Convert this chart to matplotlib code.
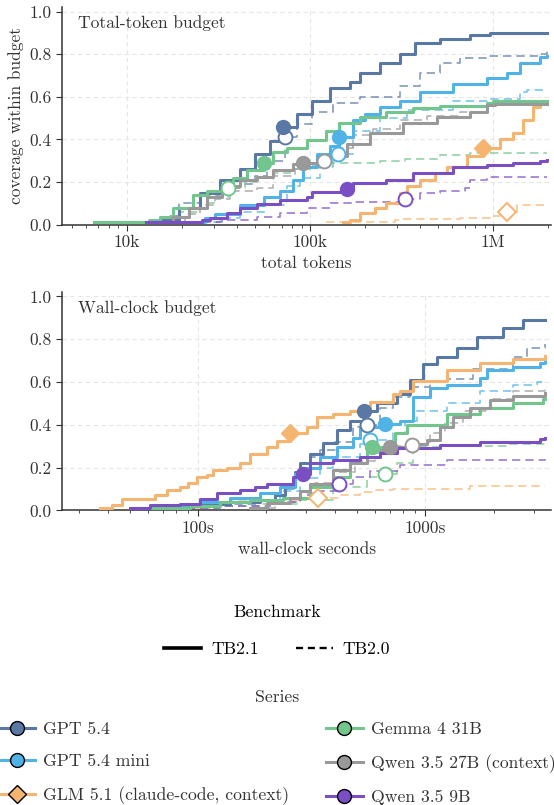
import matplotlib
matplotlib.use("Agg")
import matplotlib.pyplot as plt
from matplotlib.lines import Line2D
from matplotlib.ticker import FixedLocator, FixedFormatter, LogLocator, NullFormatter

plt.rcParams['font.family'] = 'serif'
plt.rcParams['font.serif'] = ['cmr10', 'DejaVu Serif']
plt.rcParams['axes.formatter.use_mathtext'] = True
plt.rcParams['mathtext.fontset'] = 'cm'

# ---- series meta ----
models = ["GPT 5.4", "GPT 5.4 mini", "GLM 5.1 (claude-code, context)",
          "Gemma 4 31B", "Qwen 3.5 27B (context)", "Qwen 3.5 9B"]
colors = ["#5a78a5", "#4fb3e8", "#f5b46f", "#72c58c", "#999999", "#7b4fc4"]
markers = ["o", "o", "D", "o", "o", "o"]

# ---- total-token budget: coverage curves (tokens, coverage) ----
tok_gpt54_21_x = [11.7e3, 15.1e3, 19.4e3, 25.0e3, 32.1e3, 41.3e3, 49.9e3, 60.2e3, 71.0e3, 84.6e3, 103e3, 128e3,
                  165e3, 187e3, 240e3, 309e3, 373e3, 511e3, 746e3, 960e3, 1.97e6]
tok_gpt54_21_y = [0.01, 0.02, 0.08, 0.15, 0.21, 0.26, 0.33, 0.39, 0.46, 0.52, 0.58, 0.64,
                  0.67, 0.71, 0.76, 0.80, 0.85, 0.87, 0.89, 0.90, 0.90]
tok_gpt54_20_x = [13.3e3, 16.1e3, 19.4e3, 25.0e3, 32.1e3, 41.3e3, 49.9e3, 58.0e3, 72.7e3, 84.6e3, 103e3, 133e3,
                  187e3, 309e3, 397e3, 511e3, 658e3, 924e3, 1.80e6, 1.97e6]
tok_gpt54_20_y = [0.01, 0.04, 0.10, 0.14, 0.17, 0.19, 0.23, 0.30, 0.41, 0.47, 0.53, 0.57,
                  0.60, 0.65, 0.71, 0.76, 0.78, 0.79, 0.80, 0.82]
tok_mini_21_x = [23.4e3, 26.6e3, 30.2e3, 41.3e3, 56.5e3, 68.3e3, 80.5e3, 91.2e3, 109e3, 128e3, 144e3, 171e3,
                 199e3, 240e3, 309e3, 397e3, 602e3, 924e3, 1.19e6, 1.40e6, 1.80e6, 1.97e6]
tok_mini_21_y = [0.01, 0.03, 0.05, 0.09, 0.13, 0.16, 0.21, 0.27, 0.33, 0.37, 0.41, 0.49,
                 0.52, 0.55, 0.58, 0.62, 0.66, 0.69, 0.71, 0.76, 0.785, 0.79]
tok_mini_20_x = [25.0e3, 32.1e3, 41.3e3, 56.5e3, 74.6e3, 87.8e3, 113e3, 133e3, 142e3, 171e3, 240e3, 338e3,
                 602e3, 924e3, 1.40e6, 1.53e6, 1.97e6]
tok_mini_20_y = [0.01, 0.03, 0.06, 0.09, 0.18, 0.22, 0.27, 0.32, 0.33, 0.44, 0.50, 0.54,
                 0.58, 0.59, 0.62, 0.63, 0.63]
tok_glm_21_x = [151e3, 165e3, 187e3, 226e3, 262e3, 309e3, 338e3, 397e3, 480e3, 558e3, 718e3, 879e3,
                1.09e6, 1.28e6, 1.45e6, 1.65e6, 1.80e6, 1.97e6]
tok_glm_21_y = [0.01, 0.02, 0.055, 0.08, 0.10, 0.15, 0.18, 0.21, 0.24, 0.27, 0.32, 0.36,
                0.40, 0.43, 0.49, 0.55, 0.565, 0.565]
tok_glm_20_x = [123e3, 290e3, 309e3, 658e3, 960e3, 1.09e6, 1.23e6, 1.35e6, 1.97e6]
tok_glm_20_y = [0.01, 0.02, 0.025, 0.03, 0.04, 0.05, 0.06, 0.09, 0.09]
tok_gemma_21_x = [6.66e3, 13.3e3, 15.1e3, 17.8e3, 22.9e3, 27.3e3, 33.3e3, 37.8e3, 45.1e3, 56.5e3, 62.5e3, 74.6e3,
                  96.0e3, 123e3, 145e3, 187e3, 262e3, 364e3, 511e3, 924e3, 996e3, 1.97e6]
tok_gemma_21_y = [0.01, 0.02, 0.035, 0.08, 0.14, 0.16, 0.19, 0.22, 0.255, 0.29, 0.34, 0.36,
                  0.395, 0.44, 0.475, 0.505, 0.53, 0.545, 0.555, 0.57, 0.58, 0.58]
tok_gemma_20_x = [9.12e3, 15.1e3, 19.4e3, 25.0e3, 30.2e3, 35.5e3, 44.0e3, 51.2e3, 62.5e3, 77.5e3, 96.0e3, 128e3,
                  240e3, 329e3, 511e3, 746e3, 1.97e6]
tok_gemma_20_y = [0.01, 0.03, 0.06, 0.10, 0.13, 0.17, 0.20, 0.22, 0.24, 0.26, 0.28, 0.29,
                  0.30, 0.31, 0.325, 0.335, 0.335]
tok_q27_21_x = [16.1e3, 17.8e3, 22.0e3, 27.3e3, 33.3e3, 41.3e3, 51.2e3, 62.5e3, 80.5e3, 91.2e3, 109e3, 128e3,
                159e3, 212e3, 321e3, 492e3, 746e3, 924e3, 1.02e6, 1.97e6]
tok_q27_21_y = [0.01, 0.035, 0.08, 0.13, 0.18, 0.21, 0.225, 0.255, 0.285, 0.29, 0.30, 0.32,
                0.38, 0.43, 0.475, 0.505, 0.53, 0.56, 0.565, 0.565]
tok_q27_20_x = [17.1e3, 20.7e3, 25.0e3, 30.2e3, 36.4e3, 51.2e3, 62.5e3, 82.5e3, 99.6e3, 119e3, 145e3, 171e3,
                220e3, 309e3, 434e3, 658e3, 924e3, 1.09e6, 1.97e6]
tok_q27_20_y = [0.01, 0.05, 0.09, 0.12, 0.16, 0.17, 0.23, 0.26, 0.28, 0.30, 0.36, 0.42,
                0.45, 0.49, 0.51, 0.53, 0.56, 0.57, 0.57]
tok_q9_21_x = [12.8e3, 25.9e3, 28.3e3, 35.1e3, 41.3e3, 51.2e3, 68.3e3, 96.0e3, 103e3, 155e3, 171e3, 262e3,
               364e3, 602e3, 924e3, 1.28e6, 1.80e6, 1.97e6]
tok_q9_21_y = [0.01, 0.02, 0.03, 0.055, 0.08, 0.095, 0.115, 0.13, 0.155, 0.165, 0.195, 0.21,
               0.24, 0.27, 0.28, 0.29, 0.30, 0.305]
tok_q9_20_x = [22.0e3, 33.3e3, 51.2e3, 68.3e3, 96.0e3, 128e3, 171e3, 329e3, 397e3, 511e3, 700e3, 746e3,
               924e3, 1.97e6]
tok_q9_20_y = [0.01, 0.02, 0.035, 0.055, 0.08, 0.10, 0.105, 0.12, 0.15, 0.16, 0.17, 0.21,
               0.225, 0.225]

# markers (one per model): TB2.1 filled, TB2.0 hollow
tok_mark21_x = [71.0e3, 144e3, 879e3, 56.5e3, 91.2e3, 159e3]
tok_mark21_y = [0.46, 0.41, 0.36, 0.29, 0.29, 0.167]
tok_mark20_x = [72.7e3, 142e3, 1.19e6, 35.5e3, 119e3, 329e3]
tok_mark20_y = [0.41, 0.33, 0.06, 0.17, 0.30, 0.12]

# ---- wall-clock budget: coverage curves (seconds, coverage) ----
wc_gpt54_21_x = [55.5, 75.3, 102, 138, 188, 218, 241, 267, 281, 311, 355, 410,
                 467, 539, 614, 753, 859, 980, 1130, 1383, 1694, 2206, 2704, 3381]
wc_gpt54_21_y = [0.01, 0.02, 0.03, 0.04, 0.05, 0.07, 0.12, 0.18, 0.22, 0.265, 0.315, 0.375,
                 0.42, 0.465, 0.50, 0.545, 0.61, 0.685, 0.715, 0.76, 0.81, 0.855, 0.89, 0.89]
wc_gpt54_20_x = [58.4, 83.3, 125, 188, 230, 267, 311, 344, 401, 482, 555, 634,
                 723, 859, 1053, 1250, 1626, 2443, 2814, 3381]
wc_gpt54_20_y = [0.01, 0.02, 0.03, 0.05, 0.10, 0.18, 0.25, 0.28, 0.32, 0.39, 0.40, 0.48,
                 0.53, 0.575, 0.60, 0.615, 0.66, 0.715, 0.76, 0.78]
wc_mini_21_x = [52.8, 68.1, 102, 138, 188, 230, 267, 290, 344, 410, 482, 517,
                667, 776, 886, 1053, 1250, 1747, 1875, 2443, 3211, 3381]
wc_mini_21_y = [0.01, 0.02, 0.04, 0.06, 0.08, 0.11, 0.17, 0.20, 0.25, 0.295, 0.34, 0.39,
                0.405, 0.42, 0.53, 0.57, 0.585, 0.62, 0.655, 0.67, 0.69, 0.71]
wc_mini_20_x = [55.5, 75.3, 113, 169, 230, 281, 344, 394, 517, 573, 723, 817,
                922, 1250, 1747, 2443, 3113, 3381]
wc_mini_20_y = [0.01, 0.02, 0.035, 0.05, 0.09, 0.15, 0.20, 0.25, 0.31, 0.33, 0.36, 0.42,
                0.465, 0.50, 0.56, 0.585, 0.60, 0.60]
wc_glm_21_x = [37.0, 41.8, 46.3, 64.7, 73.0, 83.3, 90.4, 99.0, 110, 116, 134, 153,
               169, 201, 223, 254, 302, 334, 394, 467, 573, 723, 776, 886, 1250, 1747, 2443, 3381]
wc_glm_21_y = [0.01, 0.025, 0.055, 0.07, 0.095, 0.11, 0.13, 0.155, 0.165, 0.19, 0.20, 0.22,
               0.265, 0.295, 0.325, 0.36, 0.39, 0.435, 0.45, 0.465, 0.505, 0.545, 0.56, 0.605, 0.655, 0.69, 0.71, 0.72]
wc_glm_20_x = [83.3, 113, 138, 281, 338, 422, 517, 602, 723, 1578, 3381]
wc_glm_20_y = [0.01, 0.03, 0.05, 0.055, 0.06, 0.07, 0.085, 0.095, 0.10, 0.115, 0.115]
wc_gemma_21_x = [61.5, 92.2, 125, 169, 237, 311, 394, 467, 555, 584, 680, 738,
                 834, 1250, 1747, 2443, 3311, 3381]
wc_gemma_21_y = [0.01, 0.02, 0.04, 0.05, 0.06, 0.11, 0.155, 0.22, 0.28, 0.295, 0.31, 0.36,
                 0.40, 0.45, 0.48, 0.50, 0.52, 0.52]
wc_gemma_20_x = [68.1, 125, 188, 281, 394, 555, 667, 753, 886, 1165, 2297, 3381]
wc_gemma_20_y = [0.01, 0.02, 0.03, 0.05, 0.11, 0.155, 0.17, 0.22, 0.295, 0.30, 0.31, 0.315]
wc_q27_21_x = [169, 201, 254, 281, 311, 394, 467, 555, 634, 702, 886, 1020,
               1165, 1328, 1578, 1933, 2443, 3381]
wc_q27_21_y = [0.01, 0.035, 0.06, 0.09, 0.125, 0.19, 0.22, 0.25, 0.28, 0.295, 0.31, 0.33,
               0.39, 0.435, 0.48, 0.515, 0.535, 0.55]
wc_q27_20_x = [178, 218, 281, 328, 394, 492, 602, 738, 877, 1053, 1225, 1469, 1933, 2443, 3381]
wc_q27_20_y = [0.01, 0.04, 0.08, 0.13, 0.18, 0.23, 0.27, 0.30, 0.305, 0.36, 0.41, 0.465, 0.52, 0.56, 0.575]
wc_q9_21_x = [50.1, 61.5, 83.3, 102, 121, 153, 178, 201, 262, 290, 311, 394,
              517, 634, 753, 1165, 1747, 3211, 3381]
wc_q9_21_y = [0.01, 0.025, 0.03, 0.055, 0.08, 0.095, 0.11, 0.125, 0.155, 0.17, 0.22, 0.235,
              0.25, 0.27, 0.29, 0.305, 0.32, 0.335, 0.34]
wc_q9_20_x = [68.1, 125, 208, 281, 344, 418, 482, 573, 776, 1250, 3381]
wc_q9_20_y = [0.01, 0.02, 0.04, 0.07, 0.09, 0.125, 0.155, 0.185, 0.21, 0.235, 0.24]

wc_mark21_x = [539, 667, 254, 584, 702, 290]
wc_mark21_y = [0.465, 0.405, 0.36, 0.295, 0.295, 0.17]
wc_mark20_x = [555, 573, 338, 667, 877, 418]
wc_mark20_y = [0.40, 0.33, 0.06, 0.17, 0.305, 0.125]

tok21 = [(tok_gpt54_21_x, tok_gpt54_21_y), (tok_mini_21_x, tok_mini_21_y), (tok_glm_21_x, tok_glm_21_y),
         (tok_gemma_21_x, tok_gemma_21_y), (tok_q27_21_x, tok_q27_21_y), (tok_q9_21_x, tok_q9_21_y)]
tok20 = [(tok_gpt54_20_x, tok_gpt54_20_y), (tok_mini_20_x, tok_mini_20_y), (tok_glm_20_x, tok_glm_20_y),
         (tok_gemma_20_x, tok_gemma_20_y), (tok_q27_20_x, tok_q27_20_y), (tok_q9_20_x, tok_q9_20_y)]
wc21 = [(wc_gpt54_21_x, wc_gpt54_21_y), (wc_mini_21_x, wc_mini_21_y), (wc_glm_21_x, wc_glm_21_y),
        (wc_gemma_21_x, wc_gemma_21_y), (wc_q27_21_x, wc_q27_21_y), (wc_q9_21_x, wc_q9_21_y)]
wc20 = [(wc_gpt54_20_x, wc_gpt54_20_y), (wc_mini_20_x, wc_mini_20_y), (wc_glm_20_x, wc_glm_20_y),
        (wc_gemma_20_x, wc_gemma_20_y), (wc_q27_20_x, wc_q27_20_y), (wc_q9_20_x, wc_q9_20_y)]

TXT = "#333333"
FS = 12.5


def draw_panel(ax, curves21, curves20, m21x, m21y, m20x, m20y, xlim, ticks, ticklabels, xlabel, title):
    for i, c in enumerate(colors):
        x, y = curves20[i]
        ax.plot(x, y, drawstyle="steps-post", color=c, lw=1.2, ls=(0, (5, 3)), alpha=0.75, zorder=2)
    for i, c in enumerate(colors):
        x, y = curves21[i]
        ax.plot(x, y, drawstyle="steps-post", color=c, lw=2.2, zorder=3)
    for i, c in enumerate(colors):
        ms = 9 if markers[i] == "D" else 10
        ax.plot([m20x[i]], [m20y[i]], marker=markers[i], ms=ms, mfc="white", mec=c, mew=1.4, zorder=5)
        ax.plot([m21x[i]], [m21y[i]], marker=markers[i], ms=ms, mfc=c, mec=c, mew=1.0, zorder=6)

    ax.set_xscale("log")
    ax.set_xlim(*xlim)
    ax.set_ylim(0, 1.02)
    ax.xaxis.set_major_locator(FixedLocator(ticks))
    ax.xaxis.set_major_formatter(FixedFormatter(ticklabels))
    ax.xaxis.set_minor_locator(LogLocator(base=10, subs=range(2, 10)))
    ax.xaxis.set_minor_formatter(NullFormatter())
    ax.set_yticks([0, 0.2, 0.4, 0.6, 0.8, 1.0])
    ax.set_yticklabels(["0.0", "0.2", "0.4", "0.6", "0.8", "1.0"])
    ax.grid(True, which="major", ls=(0, (4, 3)), color="#e6e6e6", lw=0.8)
    ax.set_axisbelow(True)
    for s in ["top", "right"]:
        ax.spines[s].set_visible(False)
    for s in ["left", "bottom"]:
        ax.spines[s].set_color(TXT)
        ax.spines[s].set_linewidth(1.1)
    ax.tick_params(axis="both", which="major", colors=TXT, labelsize=FS, length=4)
    ax.tick_params(axis="x", which="minor", colors=TXT, length=2.5)
    ax.set_xlabel(xlabel, fontsize=FS, color=TXT)
    ax.text(0.033, 0.965, title, transform=ax.transAxes, fontsize=FS, color=TXT, ha="left", va="top")


fig = plt.figure(figsize=(5.54, 8.05), dpi=100)
ax1 = fig.add_axes([0.112, 0.721, 0.883, 0.270])
ax2 = fig.add_axes([0.112, 0.366, 0.883, 0.271])

draw_panel(ax1, tok21, tok20, tok_mark21_x, tok_mark21_y, tok_mark20_x, tok_mark20_y,
           (4.43e3, 2.08e6), [1e4, 1e5, 1e6], ["10k", "100k", "1M"], "total tokens", "Total-token budget")
ax1.set_ylabel("coverage within budget", fontsize=FS, color=TXT)
draw_panel(ax2, wc21, wc20, wc_mark21_x, wc_mark21_y, wc_mark20_x, wc_mark20_y,
           (25.2, 3590), [100, 1000], ["100s", "1000s"], "wall-clock seconds", "Wall-clock budget")

# benchmark legend
LFS = 12.7
bench_handles = [Line2D([], [], color="black", lw=2.6, ls="-"),
                 Line2D([], [], color="black", lw=1.7, ls=(0, (3, 2)))]
leg1 = fig.legend(bench_handles, ["TB2.1", "TB2.0"], title="Benchmark", ncol=2, frameon=False,
                  loc="upper center", bbox_to_anchor=(0.5, 1 - 589 / 805), fontsize=LFS,
                  title_fontsize=LFS, handlelength=2.1, handletextpad=0.55, columnspacing=2.1,
                  labelspacing=1.23)

# series legend
ser_handles = []
for i, c in enumerate(colors):
    ms = 9 if markers[i] == "D" else 10
    ser_handles.append(Line2D([], [], color=c, lw=2.2, marker=markers[i], ms=ms, mfc=c, mec="black", mew=1.0))
leg2 = fig.legend(ser_handles, models, title="Series", ncol=2,
                  frameon=False, loc="upper center", bbox_to_anchor=(0.5, 1 - 674 / 805), fontsize=LFS,
                  title_fontsize=LFS, handlelength=2.1, handletextpad=0.45, columnspacing=2.05,
                  labelspacing=0.95, labelcolor=TXT)
leg2.get_title().set_color(TXT)

fig.savefig("out.png", dpi=100)
